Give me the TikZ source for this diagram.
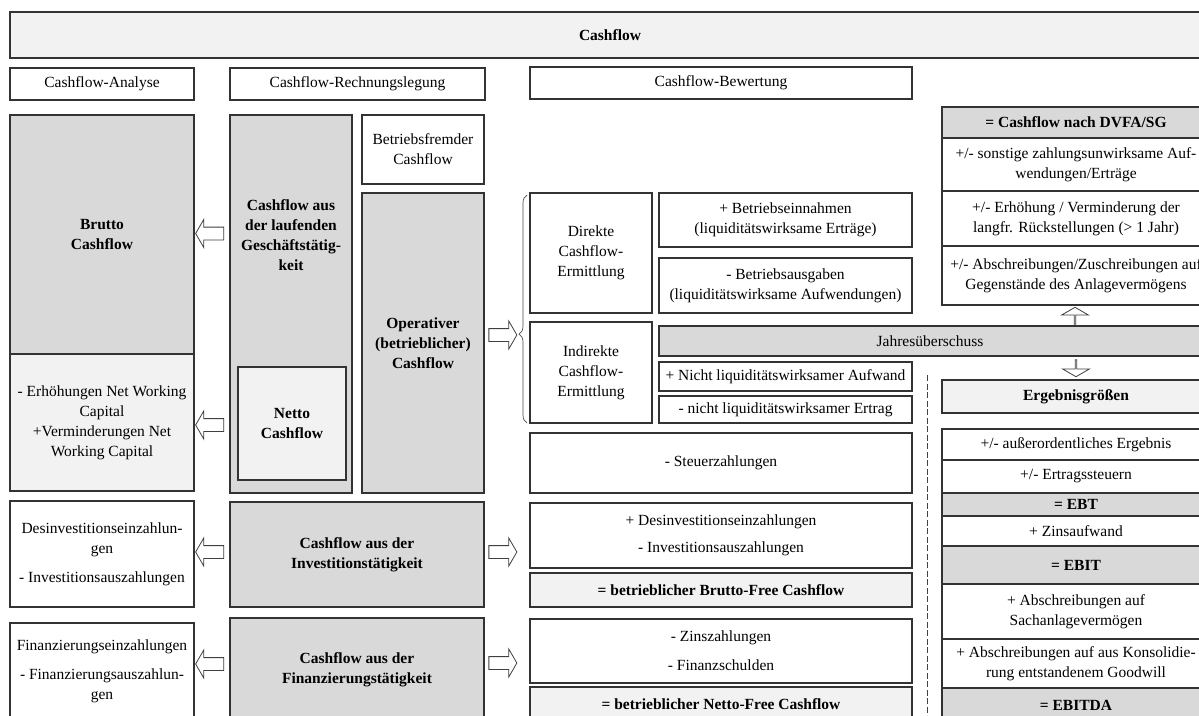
\documentclass[tikz,border=0pt]{standalone}
\usepackage{fontspec}
\setmainfont{Liberation Serif}
\usetikzlibrary{shapes.arrows,decorations.pathreplacing,calc}

\definecolor{midgray}{HTML}{D9D9D9}
\definecolor{palegray}{HTML}{F2F2F2}
\definecolor{edgecol}{HTML}{333333}

\tikzset{
  cbbase/.style={draw=edgecol, line width=1.1pt, inner sep=0pt, outer sep=0pt,
    align=center, font=\fontsize{15.5}{20}\selectfont},
  cbplain/.style={cbbase, fill=white},
  cbdark/.style={cbbase, fill=midgray},
  cbdarkb/.style={cbdark, font=\fontsize{15.5}{20}\selectfont\bfseries},
  cblight/.style={cbbase, fill=palegray},
  cblightb/.style={cblight, font=\fontsize{15.5}{20}\selectfont\bfseries},
  cbtext/.style={inner sep=0pt, align=center, font=\fontsize{15.5}{20}\selectfont\bfseries},
  blockarrow/.style={single arrow, draw=black!75, fill=white, line width=0.8pt,
    inner xsep=0pt, inner ysep=6pt, minimum width=27pt, minimum height=28pt,
    single arrow head extend=7.5pt, single arrow tip angle=120},
  vertarrow/.style={blockarrow, inner ysep=6.5pt, minimum height=17pt,
    single arrow head extend=7pt},
}

% box by its corners: style, name, x1, y1, x2, y2, text
\newcommand\rbox[7]{%
  \node[#1, minimum width={#5-#3}, minimum height={#6-#4}] (#2)
    at ({(#3+#5)/2},{(#4+#6)/2}) {#7};}

\begin{document}
\begin{tikzpicture}[x=1pt, y=-1pt]
\useasboundingbox (0,0) rectangle (1199,715);
\fill[white] (0,0) rectangle (1199,715);
\clip (0,0) rectangle (1199,715);

% title and column headings
\rbox{cblightb}{top}{10}{12}{1210}{58}{Cashflow}
\rbox{cbplain}{hAna}{10}{68}{194}{100}{Cashflow-Analyse}
\rbox{cbplain}{hRech}{230}{68}{485}{100}{Cashflow-Rechnungslegung}
\rbox{cbplain}{hBew}{530}{67}{912}{99}{Cashflow-Bewertung}

% analysis column
\rbox{cbdarkb}{brutto}{10}{115}{194}{354}{Brutto\\Cashflow}
\rbox{cblight}{nwc}{10}{354}{194}{491}{- Erhöhungen Net Working\\Capital\\+Verminderungen Net\\Working Capital}
\rbox{cbplain}{lInv}{10}{501}{194}{607}{Desinvestitionseinzahlun-\\gen\\[9pt]- Investitionsauszahlungen}
\rbox{cbplain}{lFin}{10}{623}{194}{720}{Finanzierungseinzahlungen\\[9pt]- Finanzierungsauszahlun-\\gen}

% accounting column
\rbox{cbdark}{lauf}{230}{115}{352}{493}{}
\node[cbtext] (laufT) at (291,235) {Cashflow aus\\der laufenden\\Geschäftstätig-\\keit};
\rbox{cblightb}{netto}{238}{367}{346}{480}{Netto\\Cashflow}
\rbox{cbplain}{fremd}{362}{115}{484}{184}{Betriebsfremder\\Cashflow}
\rbox{cbdarkb}{oper}{362}{193}{484}{493}{Operativer\\(betrieblicher)\\Cashflow}
\rbox{cbdarkb}{inv}{230}{502}{484}{607}{Cashflow aus der\\Investitionstätigkeit}
\rbox{cbdarkb}{fin}{230}{618}{484}{722}{Cashflow aus der\\Finanzierungstätigkeit}

% valuation column
\rbox{cbplain}{direkt}{530}{193}{652}{313}{Direkte\\Cashflow-\\Ermittlung}
\rbox{cbplain}{einn}{659}{193}{912}{247}{+ Betriebseinnahmen\\(liquiditätswirksame Erträge)}
\rbox{cbplain}{ausg}{659}{258}{912}{313}{- Betriebsausgaben\\(liquiditätswirksame Aufwendungen)}
\rbox{cbplain}{indirekt}{530}{322}{652}{423}{Indirekte\\Cashflow-\\Ermittlung}
\rbox{cbdark}{jahr}{659}{326}{1201}{356}{Jahresüberschuss}
\rbox{cbplain}{aufw}{659}{362}{912}{391}{+ Nicht liquiditätswirksamer Aufwand}
\rbox{cbplain}{ertr}{659}{396}{912}{423}{- nicht liquiditätswirksamer Ertrag}
\rbox{cbplain}{steuer}{530}{433}{912}{493}{- Steuerzahlungen}
\rbox{cbplain}{invB}{530}{503}{912}{568}{+ Desinvestitionseinzahlungen\\[7pt]- Investitionsauszahlungen}
\rbox{cblightb}{bfree}{530}{573}{912}{607}{= betrieblicher Brutto-Free Cashflow}
\rbox{cbplain}{finB}{530}{619}{912}{683}{- Zinszahlungen\\[9pt]- Finanzschulden}
\rbox{cblightb}{nfree}{530}{687}{912}{722}{= betrieblicher Netto-Free Cashflow}

% DVFA/SG column
\rbox{cbdarkb}{dvfa}{942}{107}{1210}{138}{= Cashflow nach DVFA/SG}
\rbox{cbplain}{sonst}{942}{138}{1210}{191}{+/- sonstige zahlungsunwirksame Auf-\\wendungen/Erträge}
\rbox{cbplain}{rueck}{942}{191}{1210}{246}{+/- Erhöhung / Verminderung der\\langfr. Rückstellungen (> 1 Jahr)}
\rbox{cbplain}{abschr}{942}{246}{1210}{305}{+/- Abschreibungen/Zuschreibungen auf\\Gegenstände des Anlagevermögens}
\rbox{cblightb}{erg}{942}{380}{1210}{413}{Ergebnisgrößen}
\rbox{cbplain}{ao}{942}{429}{1210}{460}{+/- außerordentliches Ergebnis}
\rbox{cbplain}{est}{942}{460}{1210}{493}{+/- Ertragssteuern}
\rbox{cbdarkb}{ebt}{942}{493}{1210}{516}{= EBT}
\rbox{cbplain}{zins}{942}{516}{1210}{546}{+ Zinsaufwand}
\rbox{cbdarkb}{ebit}{942}{546}{1210}{584}{= EBIT}
\rbox{cbplain}{sach}{942}{584}{1210}{639}{+ Abschreibungen auf\\Sachanlagevermögen}
\rbox{cbplain}{gw}{942}{639}{1210}{688}{+ Abschreibungen auf aus Konsolidie-\\rung entstandenem Goodwill}
\rbox{cbdarkb}{ebitda}{942}{688}{1210}{722}{= EBITDA}
\draw[line width=2.2pt, draw=edgecol] (ebt.south west) -- (ebt.south east);

% hollow block arrows
\node[blockarrow, shape border rotate=180] (arBrutto) at (211.5,233.5) {};
\node[blockarrow, shape border rotate=180] (arNwc) at (211.5,425) {};
\node[blockarrow] (arOper) at (501,335) {};
\node[blockarrow, shape border rotate=180] (arLInv) at (211.5,552) {};
\node[blockarrow] (arInv) at (501,552) {};
\node[blockarrow, shape border rotate=180] (arLFin) at (211.5,664) {};
\node[blockarrow] (arFin) at (501,663) {};
\node[vertarrow, shape border rotate=90] (arUp) at (1075,316) {};
\node[vertarrow, shape border rotate=270] (arDown) at (1076,368) {};

% brace grouping direct and indirect determination
\coordinate (brBot) at (527,423);
\coordinate (brTop) at (527,195);
\draw[decorate, decoration={brace, amplitude=8pt, aspect=0.39},
  line width=0.7pt, draw=black!70] (brBot) -- (brTop);

% dashed separator
\coordinate (dTop) at (927,375);
\coordinate (dBot) at (927,715);
\draw[dash pattern=on 6pt off 2.5pt, line width=0.9pt, draw=black!75] (dTop) -- (dBot);
\end{tikzpicture}
\end{document}
